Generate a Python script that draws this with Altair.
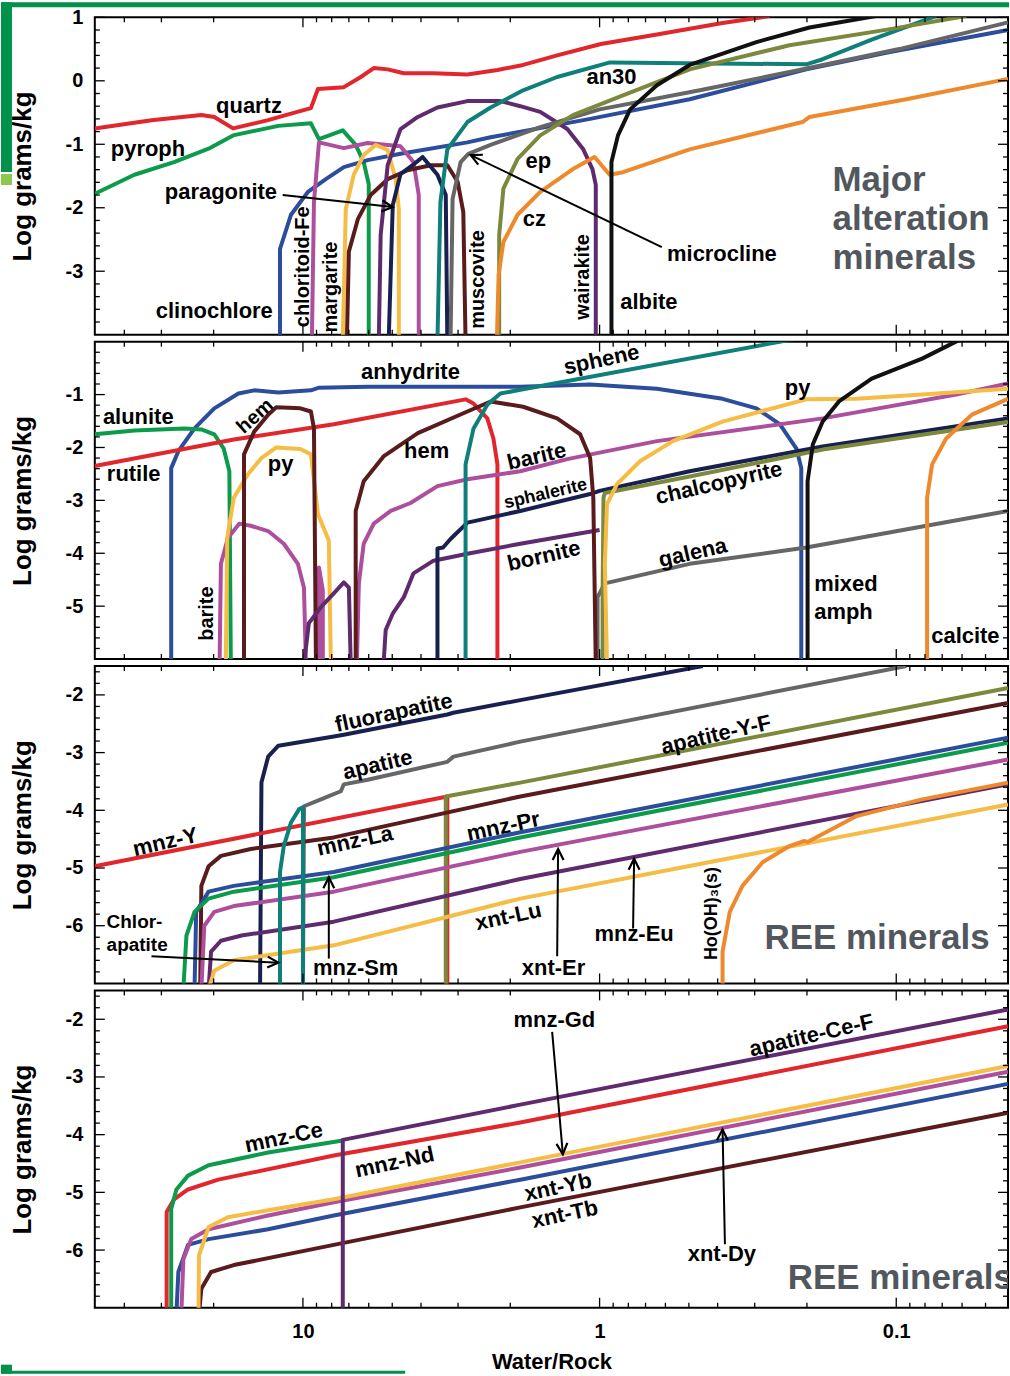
import altair as alt
import pandas as pd

# ---------------------------------------------------------------------------
# Layout / styling constants
# ---------------------------------------------------------------------------
WR_LO, WR_HI = 0.042, 50.3          # Water/Rock extent (log axis, reversed)
W, H = 915, 318                     # plot area of every panel
FONT = "Liberation Sans"
NOTE_GRAY = "#52575d"

RED = "#e1262c"
GREEN = "#0c9a4b"
BLUE = "#2b4d9c"
MAGENTA = "#ad4f9d"
YELLOW = "#f5bd45"
BROWN = "#5a1b1d"
PURPLE = "#5f2a6e"
NAVY = "#18204f"
TEAL = "#0f7f7a"
GRAY = "#666666"
OLIVE = "#7c893c"
ORANGE = "#ee8a2d"
BLACK = "#111111"

X_MAJOR = [10, 1, 0.1]
X_MINOR = [40, 30, 20, 9, 8, 7, 6, 5, 4, 3, 2,
           0.9, 0.8, 0.7, 0.6, 0.5, 0.4, 0.3, 0.2,
           0.09, 0.08, 0.07, 0.06, 0.05]

# ---------------------------------------------------------------------------
# Panel 1 - major alteration minerals  (W/R, log g/kg)
# ---------------------------------------------------------------------------
quartz_wr = [50.3, 32.4, 22.0, 19.9, 17.2, 13.1, 11.2, 9.4, 8.9, 7.28, 6.38, 5.77,
             5.18, 4.57, 3.63, 2.79, 2.21, 1.81, 1.39, 0.99, 0.641, 0.385, 0.267]
quartz_lg = [-0.75, -0.62, -0.54, -0.57, -0.75, -0.62, -0.53, -0.43, -0.13, -0.10, 0.06, 0.20,
             0.18, 0.12, 0.12, 0.10, 0.17, 0.25, 0.40, 0.58, 0.73, 0.91, 1.02]

pyroph_wr = [50.3, 37.0, 27.2, 20.8, 17.2, 12.1, 9.4, 8.83, 7.34, 6.64, 6.24, 6.0, 6.0]
pyroph_lg = [-1.78, -1.48, -1.28, -1.07, -0.86, -0.71, -0.67, -0.92, -0.78, -1.01, -1.28, -1.63, -4.1]

clinochlore_wr = [11.95, 11.95, 10.97, 9.62, 8.37, 7.28, 6.05, 4.69, 2.79, 2.33, 1.076,
                  0.497, 0.201, 0.106, 0.042]
clinochlore_lg = [-4.1, -2.65, -2.11, -1.75, -1.55, -1.36, -1.25, -1.15, -0.97, -0.89, -0.60,
                  -0.29, 0.18, 0.45, 0.80]

chloritoid_wr = [9.33, 9.18, 8.83, 7.28, 6.05, 4.69, 4.24, 4.07, 4.07]
chloritoid_lg = [-4.1, -1.91, -0.97, -1.06, -0.98, -1.03, -1.28, -1.80, -4.1]

margarite_wr = [7.34, 7.17, 6.74, 6.24, 5.69, 5.18, 4.87, 4.75, 4.75]
margarite_lg = [-4.1, -2.02, -1.48, -1.17, -1.01, -1.09, -1.55, -2.02, -4.1]

muscovite_wr = [7.11, 7.0, 6.53, 5.91, 5.18, 4.44, 3.71, 3.26, 3.01, 2.88, 2.83]
muscovite_lg = [-4.1, -2.69, -2.18, -1.80, -1.55, -1.41, -1.33, -1.33, -1.59, -2.07, -4.1]

wairakite_wr = [5.55, 5.47, 5.18, 4.69, 4.10, 3.52, 2.79, 2.16, 1.85, 1.585, 1.285,
                1.135, 1.057, 1.03, 1.03]
wairakite_lg = [-4.1, -2.43, -1.33, -0.76, -0.57, -0.42, -0.32, -0.32, -0.40, -0.49, -0.76,
                -1.08, -1.39, -1.64, -4.1]

paragonite_wr = [5.14, 4.98, 4.69, 4.27, 3.95, 3.52, 3.30, 3.26]
paragonite_lg = [-4.1, -1.96, -1.47, -1.33, -1.20, -1.48, -1.80, -4.1]

an30_wr = [3.52, 3.44, 3.26, 2.79, 2.33, 1.81, 1.39, 0.922, 0.201, 0.177, 0.121, 0.0735]
an30_lg = [-4.1, -1.91, -1.08, -0.65, -0.42, -0.15, 0.06, 0.29, 0.26, 0.34, 0.65, 1.02]

microcline_wr = [3.18, 3.13, 2.94, 2.77, 2.33, 1.585, 1.0, 0.459, 0.212, 0.0977, 0.042]
microcline_lg = [-4.1, -1.86, -1.28, -1.15, -1.01, -0.73, -0.45, -0.15, 0.17, 0.50, 0.92]

ep_wr = [2.18, 2.18, 2.11, 1.89, 1.585, 1.23, 0.834, 0.497, 0.229, 0.106, 0.0582]
ep_lg = [-4.1, -2.43, -1.70, -1.23, -0.86, -0.54, -0.23, 0.18, 0.56, 0.81, 1.02]

cz_wr = [2.22, 2.19, 2.11, 1.89, 1.585, 1.23, 1.04, 0.925, 0.834, 0.497, 0.207, 0.196,
         0.0925, 0.042]
cz_lg = [-4.1, -3.06, -2.54, -2.11, -1.75, -1.39, -1.20, -1.48, -1.44, -1.08, -0.65, -0.57,
         -0.29, 0.03]

albite_wr = [0.912, 0.912, 0.867, 0.789, 0.641, 0.497, 0.296, 0.196, 0.117]
albite_lg = [-4.1, -1.28, -0.86, -0.45, -0.07, 0.25, 0.61, 0.84, 1.02]

# ---------------------------------------------------------------------------
# Panel 2 - sulfates, oxides, sulfides
# ---------------------------------------------------------------------------
anhydrite_wr = [27.8, 27.8, 26.3, 23.2, 19.9, 16.5, 14.6, 12.1, 9.4, 8.83, 6.05, 1.85,
                1.076, 0.641, 0.385, 0.296, 0.247, 0.217, 0.209, 0.209]
anhydrite_lg = [-6.1, -2.39, -2.07, -1.64, -1.26, -0.98, -0.92, -0.96, -0.92, -0.87, -0.85, -0.85,
                -0.81, -0.89, -1.08, -1.26, -1.56, -2.02, -2.39, -6.1]

alunite_wr = [50.3, 37.0, 25.1, 22.0, 19.9, 18.5, 17.7, 17.5]
alunite_lg = [-1.75, -1.68, -1.64, -1.66, -1.75, -2.02, -2.45, -6.1]

rutile_wr = [50.3, 17.1, 7.87, 2.83, 2.66, 2.39, 2.28, 2.21, 2.21]
rutile_lg = [-2.35, -1.85, -1.56, -1.09, -1.17, -1.45, -1.83, -2.32, -6.1]

hem_a_wr = [15.8, 15.8, 14.6, 13.1, 12.3, 10.2, 9.4, 9.18, 9.04]
hem_a_lg = [-6.1, -2.13, -1.70, -1.38, -1.24, -1.26, -1.32, -1.64, -6.1]

py_a_wr = [18.2, 18.0, 17.1, 15.3, 13.8, 12.3, 10.2, 9.4, 8.9, 8.18, 8.05]
py_a_lg = [-6.1, -3.71, -2.95, -2.50, -2.20, -2.0, -2.03, -2.13, -3.26, -3.76, -6.1]

barite_a_wr = [19.1, 18.9, 17.9, 16.4, 15.0, 13.1, 11.6, 10.4, 9.92, 9.77]
barite_a_lg = [-6.1, -4.20, -3.71, -3.44, -3.48, -3.58, -3.82, -4.20, -4.65, -6.1]

barite_b_wr = [8.83, 8.83, 8.57, 8.57]
barite_b_lg = [-6.1, -4.27, -4.70, -6.1]

barite_c_wr = [6.58, 6.48, 6.24, 5.77, 5.06, 4.34, 3.52, 2.79, 1.85, 1.285, 0.641, 0.177,
               0.0628, 0.042]
barite_c_lg = [-6.1, -4.57, -3.82, -3.44, -3.20, -3.05, -2.73, -2.60, -2.45, -2.22, -1.88, -1.45,
               -1.0, -0.79]

bornite_a_wr = [9.92, 9.55, 8.7, 7.87, 7.28, 7.0, 6.9]
bornite_a_lg = [-6.1, -5.32, -5.02, -4.76, -4.55, -4.65, -6.1]

bornite_b_wr = [5.35, 5.26, 4.98, 4.57, 4.24, 3.63, 2.79, 1.85, 1.0]
bornite_b_lg = [-6.1, -5.45, -5.14, -4.83, -4.38, -4.14, -4.01, -3.82, -3.56]

sphalerite_wr = [3.52, 3.52, 3.37, 3.18, 2.79, 1.85, 1.076, 1.0, 0.497, 0.177, 0.042]
sphalerite_lg = [-6.1, -3.91, -3.89, -3.73, -3.42, -3.20, -2.88, -2.82, -2.45, -1.98, -1.45]

chalcopyrite_wr = [0.977, 0.977, 0.97, 0.96, 0.497, 0.177, 0.042]
chalcopyrite_lg = [-6.1, -4.83, -2.95, -2.86, -2.55, -2.04, -1.52]

galena_wr = [1.016, 1.016, 0.96, 0.497, 0.201, 0.042]
galena_lg = [-6.1, -4.83, -4.57, -4.20, -3.89, -3.20]

hem_b_wr = [6.64, 6.64, 6.24, 5.35, 4.10, 2.79, 2.33, 1.81, 1.39, 1.163, 1.076, 1.05, 1.03]
hem_b_lg = [-6.1, -3.20, -2.64, -2.17, -1.73, -1.32, -1.13, -1.23, -1.45, -1.75, -2.20, -2.95, -6.1]

sphene_wr = [2.83, 2.83, 2.66, 2.39, 2.16, 1.85, 0.22]
sphene_lg = [-6.1, -2.32, -1.64, -1.19, -0.98, -0.91, 0.05]

py_b_wr = [0.944, 0.96, 0.944, 0.873, 0.731, 0.566, 0.385, 0.201, 0.136, 0.0818, 0.042]
py_b_lg = [-6.1, -4.20, -3.07, -2.69, -2.26, -1.88, -1.51, -1.09, -1.08, -1.0, -0.89]

amph_wr = [0.199, 0.199, 0.191, 0.177, 0.156, 0.121, 0.0818, 0.0615]
amph_lg = [-6.1, -2.64, -1.94, -1.51, -1.13, -0.70, -0.32, 0.03]

calcite_wr = [0.0787, 0.0787, 0.0757, 0.0679, 0.0556, 0.042]
calcite_lg = [-6.1, -2.95, -2.32, -1.83, -1.38, -1.08]

# ---------------------------------------------------------------------------
# Panel 3 - REE minerals (apatites, monazites, xenotimes)
# ---------------------------------------------------------------------------
fluorapatite_wr = [13.95, 13.8, 13.1, 12.1, 7.87, 7.28, 3.26, 3.11, 1.85, 0.449]
fluorapatite_lg = [-7.1, -3.52, -3.07, -2.88, -2.72, -2.69, -2.34, -2.31, -2.09, -1.50]

apatite_wr = [10.0, 9.92, 8.7, 7.45, 7.28, 6.05, 3.26, 3.11, 1.85, 0.0925]
apatite_lg = [-7.1, -3.93, -3.81, -3.67, -3.55, -3.47, -3.16, -3.07, -2.81, -1.50]

mnz_y_wr = [50.3, 3.26, 3.26]
mnz_y_lg = [-4.97, -3.76, -7.1]

apatite_yf_wr = [3.30, 3.30, 1.85, 0.042]
apatite_yf_lg = [-7.1, -3.76, -3.52, -1.88]

mnz_la_wr = [22.2, 22.0, 20.8, 18.9, 15.0, 7.87, 1.85, 0.042]
mnz_la_lg = [-7.1, -5.31, -4.97, -4.79, -4.67, -4.47, -3.76, -2.14]

mnz_pr_wr = [23.2, 22.9, 20.8, 17.1, 7.87, 1.85, 0.042]
mnz_pr_lg = [-7.1, -5.76, -5.41, -5.31, -5.07, -4.38, -2.74]

mnz_sm_wr = [25.3, 24.7, 23.2, 20.8, 17.1, 7.87, 1.85, 0.042]
mnz_sm_lg = [-7.1, -6.17, -5.76, -5.53, -5.41, -5.16, -4.47, -2.83]

xnt_er_wr = [22.0, 21.5, 19.9, 17.1, 7.87, 1.85, 0.042]
xnt_er_lg = [-7.1, -6.0, -5.76, -5.66, -5.41, -4.72, -3.12]

mnz_eu_wr = [20.8, 20.4, 18.9, 16.1, 7.87, 1.85, 0.042]
mnz_eu_lg = [-7.1, -6.45, -6.26, -6.17, -5.93, -5.19, -3.55]

xnt_lu_wr = [20.8, 19.9, 17.1, 7.87, 1.85, 0.042]
xnt_lu_lg = [-7.1, -6.78, -6.60, -6.34, -5.53, -3.90]

chlorapatite_wr = [11.95, 11.95, 11.6, 10.97, 10.3, 10.0, 10.0]
chlorapatite_lg = [-7.1, -5.07, -4.62, -4.21, -3.98, -3.95, -7.1]

ho_oh3_wr = [0.385, 0.385, 0.364, 0.33, 0.282, 0.229, 0.204, 0.199, 0.136, 0.0818, 0.042]
ho_oh3_lg = [-7.1, -6.45, -5.76, -5.31, -4.90, -4.62, -4.53, -4.55, -4.10, -3.81, -3.52]

# ---------------------------------------------------------------------------
# Panel 4 - REE minerals (continued)
# ---------------------------------------------------------------------------
mnz_nd_wr = [28.8, 28.8, 27.2, 24.4, 19.3, 7.87, 1.85, 0.042]
mnz_nd_lg = [-7.1, -5.34, -5.12, -4.95, -4.78, -4.36, -3.79, -2.12]

mnz_ce_wr = [27.8, 27.8, 26.7, 24.4, 20.8, 13.1, 7.34]
mnz_ce_lg = [-7.1, -5.29, -4.95, -4.71, -4.53, -4.31, -4.10]

apatite_cef_wr = [7.34, 7.34, 1.85, 0.042]
apatite_cef_lg = [-7.1, -4.09, -3.48, -1.83]

mnz_gd_wr = [22.5, 22.4, 20.8, 17.9, 13.1, 7.87, 1.85, 0.042]
mnz_gd_lg = [-7.1, -6.09, -5.60, -5.43, -5.31, -5.12, -4.48, -2.81]

xnt_dy_wr = [25.7, 25.3, 23.8, 20.8, 13.1, 7.87, 1.85, 0.042]
xnt_dy_lg = [-7.1, -6.16, -5.81, -5.64, -5.40, -5.17, -4.57, -2.91]

xnt_yb_wr = [26.7, 26.3, 24.4, 20.8, 13.1, 7.87, 1.85, 0.042]
xnt_yb_lg = [-7.1, -6.38, -5.91, -5.81, -5.64, -5.40, -4.78, -3.12]

xnt_tb_wr = [22.4, 22.0, 20.4, 17.1, 7.87, 1.85, 0.042]
xnt_tb_lg = [-7.1, -6.67, -6.38, -6.26, -5.91, -5.26, -3.62]

# ---------------------------------------------------------------------------
# Curve labels: (text, W/R, log g/kg, rotation deg, font size)
# ---------------------------------------------------------------------------
labels_p1 = [
    ("quartz", 15.2, -0.40, 0, 22), ("pyroph", 33.3, -1.08, 0, 22),
    ("paragonite", 18.9, -1.75, 0, 22), ("clinochlore", 19.9, -3.62, 0, 22),
    ("chloritoid-Fe", 10.0, -2.93, 270, 20), ("margarite", 8.05, -3.25, 270, 20),
    ("muscovite", 2.56, -3.13, 270, 20), ("wairakite", 1.135, -3.09, 270, 20),
    ("an30", 0.912, 0.06, 0, 22), ("ep", 1.61, -1.26, 0, 22), ("cz", 1.66, -2.18, 0, 22),
    ("microcline", 0.387, -2.73, 0, 22), ("albite", 0.682, -3.48, 0, 22),
]
labels_p2 = [
    ("anhydrite", 4.34, -0.57, 0, 22), ("sphene", 0.985, -0.34, 348, 22),
    ("alunite", 35.9, -1.43, 0, 22), ("hem", 14.5, -1.41, 318, 20),
    ("py", 11.9, -2.32, 0, 22), ("rutile", 37.2, -2.50, 0, 22), ("hem", 3.83, -2.07, 0, 22),
    ("barite", 1.63, -2.17, 347, 22), ("sphalerite", 1.52, -2.88, 347, 18),
    ("chalcopyrite", 0.396, -2.67, 347, 22), ("bornite", 1.54, -4.05, 347, 22),
    ("galena", 0.485, -3.99, 347, 22), ("barite", 21.0, -5.14, 270, 20),
    ("py", 0.215, -0.87, 0, 22),
]
labels_p3 = [
    ("fluorapatite", 4.94, -2.31, 348, 22), ("apatite", 5.6, -3.21, 347, 22),
    ("mnz-Y", 29.1, -4.55, 347, 22), ("mnz-La", 6.68, -4.53, 348, 22),
    ("mnz-Pr", 2.11, -4.28, 348, 22), ("apatite-Y-F", 0.405, -2.69, 347, 22),
    ("mnz-Sm", 6.64, -6.74, 0, 22), ("xnt-Lu", 2.03, -5.84, 348, 22),
    ("xnt-Er", 1.43, -6.74, 0, 22), ("mnz-Eu", 0.765, -6.14, 0, 22),
    ("Ho(OH)\u2083(s)", 0.419, -5.79, 270, 18),
]
labels_p4 = [
    ("mnz-Ce", 11.6, -4.05, 348, 22), ("mnz-Nd", 4.91, -4.48, 348, 22),
    ("mnz-Gd", 1.42, -2.02, 0, 22), ("apatite-Ce-F", 0.193, -2.28, 347, 22),
    ("xnt-Yb", 1.38, -4.91, 348, 22), ("xnt-Tb", 1.31, -5.38, 348, 22),
    ("xnt-Dy", 0.387, -6.07, 0, 22),
]

# Left-aligned annotations: (text, W/R, log g/kg, font size, colour)
notes_p1 = [("Major", 0.164, -1.56, 35, NOTE_GRAY), ("alteration", 0.164, -2.18, 35, NOTE_GRAY),
            ("minerals", 0.164, -2.79, 35, NOTE_GRAY)]
notes_p2 = [("mixed", 0.189, -4.59, 22, "black"), ("amph", 0.189, -5.12, 22, "black"),
            ("calcite", 0.0762, -5.57, 22, "black")]
notes_p3 = [("Chlor-", 45.9, -5.93, 19, "black"), ("apatite", 45.9, -6.34, 19, "black"),
            ("REE minerals", 0.278, -6.21, 35, NOTE_GRAY)]
notes_p4 = [("REE minerals", 0.232, -6.48, 35, NOTE_GRAY)]

# Pointer arrows: (from W/R, from log, to W/R, to log, head rotation deg)
arrows_p1 = [(11.7, -1.80, 4.98, -1.99, 6), (0.617, -2.62, 2.72, -1.17, 205)]
arrows_p3 = [(32.4, -6.53, 12.1, -6.64, 3), (8.18, -6.57, 8.18, -5.16, 270),
             (1.39, -6.53, 1.38, -4.67, 270), (0.771, -6.05, 0.765, -4.84, 270)]
arrows_p4 = [(1.445, -2.22, 1.33, -4.34, 85), (0.378, -5.90, 0.385, -3.91, 271)]

series_p1 = [
    ("quartz", RED, quartz_wr, quartz_lg), ("pyroph", GREEN, pyroph_wr, pyroph_lg),
    ("clinochlore", BLUE, clinochlore_wr, clinochlore_lg),
    ("chloritoid-Fe", MAGENTA, chloritoid_wr, chloritoid_lg),
    ("margarite", YELLOW, margarite_wr, margarite_lg),
    ("muscovite", BROWN, muscovite_wr, muscovite_lg),
    ("wairakite", PURPLE, wairakite_wr, wairakite_lg),
    ("paragonite", NAVY, paragonite_wr, paragonite_lg),
    ("an30", TEAL, an30_wr, an30_lg), ("microcline", GRAY, microcline_wr, microcline_lg),
    ("ep", OLIVE, ep_wr, ep_lg), ("cz", ORANGE, cz_wr, cz_lg),
    ("albite", BLACK, albite_wr, albite_lg),
]
series_p2 = [
    ("anhydrite", BLUE, anhydrite_wr, anhydrite_lg), ("alunite", GREEN, alunite_wr, alunite_lg),
    ("rutile", RED, rutile_wr, rutile_lg), ("barite-a", MAGENTA, barite_a_wr, barite_a_lg),
    ("barite-b", MAGENTA, barite_b_wr, barite_b_lg), ("barite-c", MAGENTA, barite_c_wr, barite_c_lg),
    ("py-a", YELLOW, py_a_wr, py_a_lg), ("hem-a", BROWN, hem_a_wr, hem_a_lg),
    ("bornite-a", PURPLE, bornite_a_wr, bornite_a_lg), ("bornite-b", PURPLE, bornite_b_wr, bornite_b_lg),
    ("sphalerite", NAVY, sphalerite_wr, sphalerite_lg),
    ("galena", GRAY, galena_wr, galena_lg),
    ("chalcopyrite", OLIVE, chalcopyrite_wr, chalcopyrite_lg),
    ("hem-b", BROWN, hem_b_wr, hem_b_lg), ("sphene", TEAL, sphene_wr, sphene_lg),
    ("py-b", YELLOW, py_b_wr, py_b_lg), ("mixed amph", BLACK, amph_wr, amph_lg),
    ("calcite", ORANGE, calcite_wr, calcite_lg),
]
series_p3 = [
    ("fluorapatite", NAVY, fluorapatite_wr, fluorapatite_lg),
    ("apatite", GRAY, apatite_wr, apatite_lg), ("mnz-Y", RED, mnz_y_wr, mnz_y_lg),
    ("apatite-Y-F", OLIVE, apatite_yf_wr, apatite_yf_lg),
    ("mnz-La", BROWN, mnz_la_wr, mnz_la_lg), ("mnz-Pr", BLUE, mnz_pr_wr, mnz_pr_lg),
    ("mnz-Sm", GREEN, mnz_sm_wr, mnz_sm_lg), ("xnt-Er", MAGENTA, xnt_er_wr, xnt_er_lg),
    ("mnz-Eu", PURPLE, mnz_eu_wr, mnz_eu_lg), ("xnt-Lu", YELLOW, xnt_lu_wr, xnt_lu_lg),
    ("Chlor-apatite", TEAL, chlorapatite_wr, chlorapatite_lg),
    ("Ho(OH)3(s)", ORANGE, ho_oh3_wr, ho_oh3_lg),
]
series_p4 = [
    ("xnt-Tb", BROWN, xnt_tb_wr, xnt_tb_lg), ("xnt-Yb", BLUE, xnt_yb_wr, xnt_yb_lg),
    ("xnt-Dy", MAGENTA, xnt_dy_wr, xnt_dy_lg), ("mnz-Gd", YELLOW, mnz_gd_wr, mnz_gd_lg),
    ("mnz-Nd", RED, mnz_nd_wr, mnz_nd_lg), ("mnz-Ce", GREEN, mnz_ce_wr, mnz_ce_lg),
    ("apatite-Ce-F", PURPLE, apatite_cef_wr, apatite_cef_lg),
]

XSCALE = alt.Scale(type="log", domain=[WR_LO, WR_HI], reverse=True, nice=False)


def minor_steps(lo, hi, majors):
    vals = []
    k = 1
    while lo + 0.2 * k < hi - 1e-6:
        v = round(lo + 0.2 * k, 1)
        if all(abs(v - m) > 1e-6 for m in majors):
            vals.append(v)
        k += 1
    return vals


def panel(series, labels, notes, arrows, ydom, ymajor, bottom_axis=False, decor=()):
    if bottom_axis:
        xaxis = alt.Axis(values=X_MAJOR, format="~g", ticks=False, tickSize=0, domain=False,
                         grid=False, labelFont=FONT, labelFontWeight="bold", labelFontSize=20,
                         labelColor="black", labelPadding=14, title="Water/Rock",
                         titleFont=FONT, titleFontWeight="bold", titleFontSize=22,
                         titleColor="black", titlePadding=10)
    else:
        xaxis = None
    yaxis = alt.Axis(values=ymajor, ticks=False, tickSize=0, domain=False, grid=False,
                     labelFont=FONT, labelFontWeight="bold", labelFontSize=20,
                     labelColor="black", labelPadding=12,
                     labelExpr="datum.value < 0 ? '-' + format(-datum.value, 'd') : format(datum.value, 'd')",
                     title="Log grams/kg", titleFont=FONT, titleFontWeight="bold",
                     titleFontSize=26, titleColor="black", titleAngle=270,
                     titleX=-72, titleY=H / 2, titleAlign="center", titleBaseline="middle")
    yscale = alt.Scale(domain=list(ydom), nice=False, zero=False)
    X = alt.X("wr:Q", scale=XSCALE, axis=xaxis)
    Y = alt.Y("lg:Q", scale=yscale, axis=yaxis)

    rows = []
    for name, col, wr, lg in series:
        for i, (a, b) in enumerate(zip(wr, lg)):
            rows.append({"name": name, "col": col, "i": i, "wr": a, "lg": b})

    layers = []
    # decorative page bands (pixel placed, outside the plotting frame)
    for (x0, x1, y0, y1, fill) in decor:
        layers.append(alt.Chart(pd.DataFrame({"k": [0]})).mark_rect(fill=fill).encode(
            x=alt.value(x0), x2=alt.value(x1), y=alt.value(y0), y2=alt.value(y1)))

    layers.append(alt.Chart(pd.DataFrame(rows)).mark_line(
        strokeWidth=4, clip=True, strokeJoin="round").encode(
        x=X, y=Y, detail="name:N",
        color=alt.Color("col:N", scale=None),
        order=alt.Order("i:Q")))

    # inward tick marks on all four sides of the frame
    ymin = minor_steps(ydom[0], ydom[1], ymajor)
    for vals, L in ((X_MAJOR, 10), (X_MINOR, 5)):
        d = pd.DataFrame({"wr": vals})
        layers.append(alt.Chart(d).mark_rule(color="black", strokeWidth=1.3).encode(
            x=X, y=alt.value(0), y2=alt.value(L)))
        layers.append(alt.Chart(d).mark_rule(color="black", strokeWidth=1.3).encode(
            x=X, y=alt.value(H), y2=alt.value(H - L)))
    for vals, L in ((ymajor, 10), (ymin, 5)):
        d = pd.DataFrame({"lg": vals})
        layers.append(alt.Chart(d).mark_rule(color="black", strokeWidth=1.3).encode(
            y=Y, x=alt.value(0), x2=alt.value(L)))
        layers.append(alt.Chart(d).mark_rule(color="black", strokeWidth=1.3).encode(
            y=Y, x=alt.value(W), x2=alt.value(W - L)))

    if arrows:
        arows, heads = [], []
        for k, (x0, y0, x1, y1, ang) in enumerate(arrows):
            arows.append({"aid": k, "i": 0, "wr": x0, "lg": y0})
            arows.append({"aid": k, "i": 1, "wr": x1, "lg": y1})
            heads.append({"wr": x1, "lg": y1, "ang": ang})
        layers.append(alt.Chart(pd.DataFrame(arows)).mark_line(
            color="black", strokeWidth=2).encode(
            x=X, y=Y, detail="aid:N", order=alt.Order("i:Q")))
        layers.append(alt.Chart(pd.DataFrame(heads)).mark_point(
            shape="M-1,-0.5L0,0L-1,0.5", filled=False, stroke="black", strokeWidth=2.2,
            size=480, opacity=1).encode(
            x=X, y=Y, angle=alt.Angle("ang:Q", scale=None)))

    ldf = pd.DataFrame(labels, columns=["text", "wr", "lg", "angle", "size"])
    layers.append(alt.Chart(ldf).mark_text(
        font=FONT, fontWeight="bold", color="black", align="center", baseline="middle",
        clip=True).encode(
        x=X, y=Y, text="text:N", angle=alt.Angle("angle:Q", scale=None),
        size=alt.Size("size:Q", scale=None)))

    if notes:
        ndf = pd.DataFrame(notes, columns=["text", "wr", "lg", "size", "col"])
        layers.append(alt.Chart(ndf).mark_text(
            font=FONT, fontWeight="bold", align="left", baseline="middle", clip=True).encode(
            x=X, y=Y, text="text:N", size=alt.Size("size:Q", scale=None),
            color=alt.Color("col:N", scale=None)))

    return alt.layer(*layers).properties(width=W, height=H)


DARK_GREEN = "#00924b"
LIGHT_GREEN = "#8cc850"

p1 = panel(series_p1, labels_p1, notes_p1, arrows_p1, (-4.0, 1.0), [-3, -2, -1, 0, 1],
           decor=[(-94, 916, -15, -10, DARK_GREEN), (-94, -83, -15, 155, DARK_GREEN),
                  (-94, -83, 157, 168, LIGHT_GREEN)])
p2 = panel(series_p2, labels_p2, notes_p2, [], (-6.0, 0.0), [-5, -4, -3, -2, -1])
p3 = panel(series_p3, labels_p3, notes_p3, arrows_p3, (-7.0, -1.5), [-6, -5, -4, -3, -2])
p4 = panel(series_p4, labels_p4, notes_p4, arrows_p4, (-7.0, -1.5), [-6, -5, -4, -3, -2],
           bottom_axis=True,
           decor=[(-94, 311, 381, 384, DARK_GREEN), (-94, -83, 375, 384, DARK_GREEN)])

chart = alt.vconcat(p1, p2, p3, p4, spacing=7, bounds="flush").properties(
    padding=0
).configure_view(stroke="black", strokeWidth=2)

chart.save("out.html", embed_options={"renderer": "svg", "actions": False})
